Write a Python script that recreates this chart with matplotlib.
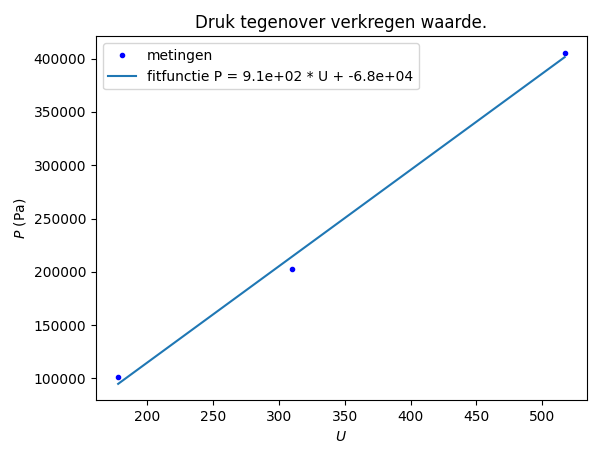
import numpy as np
import matplotlib
matplotlib.use("Agg")
import matplotlib.pyplot as plt

U = np.array([178.0, 310.0, 517.0])
P = np.array([101325.0, 202650.0, 405300.0])
slope = 904.0
intercept = -66000.0
label = "fitfunctie P = 9.1e+02 * U + -6.8e+04"

fig, ax = plt.subplots(figsize=(5.99, 4.55), dpi=100)
ax.plot(U, P, "b.", label="metingen")
ax.plot(U, slope * U + intercept, label=label)
ax.set_xlabel("$U$")
ax.set_ylabel("$P$ (Pa)")
ax.set_title("Druk tegenover verkregen waarde.")
ax.legend()
fig.subplots_adjust(left=0.16, right=0.98, bottom=0.12, top=0.92)
fig.savefig("out.png")
